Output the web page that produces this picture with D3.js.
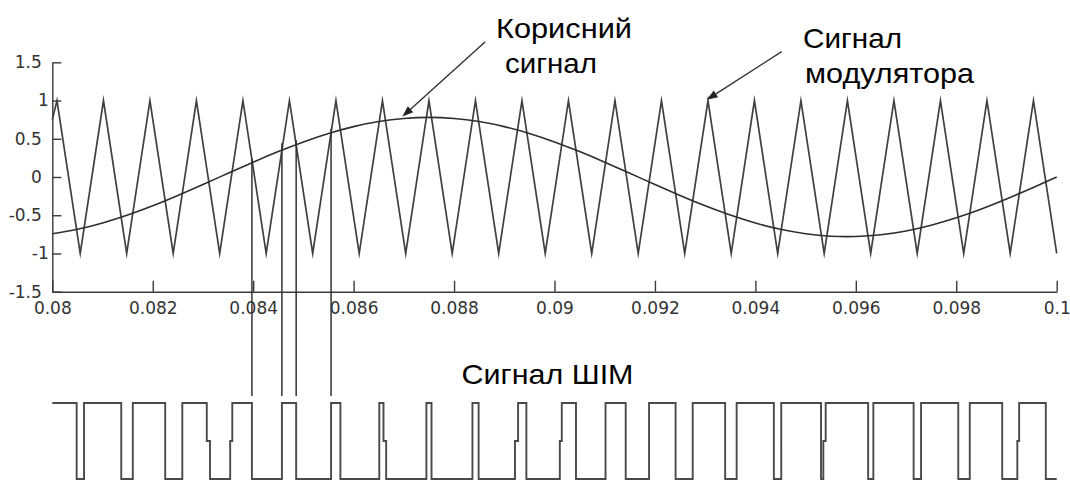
<!DOCTYPE html>
<html>
<head>
<meta charset="utf-8">
<script src="https://cdn.jsdelivr.net/npm/d3@7"></script>
<style>
html, body { margin: 0; padding: 0; background: #ffffff; }
svg { display: block; }
</style>
</head>
<body>
<svg id="chart" width="1070" height="481"></svg>
<script>
// ---------------- data ----------------
const xTicks = [0.08, 0.082, 0.084, 0.086, 0.088, 0.09, 0.092, 0.094, 0.096, 0.098, 0.1];
const xTickLabels = ["0.08", "0.082", "0.084", "0.086", "0.088", "0.09", "0.092", "0.094", "0.096", "0.098", "0.1"];
const yTicks = [1.5, 1, 0.5, 0, -0.5, -1, -1.5];
const yTickLabels = ["1.5", "1", "0.5", "0", "-0.5", "-1", "-1.5"];

// useful (modulating) signal, read every 0.0005 s
const sampleTimes = [0.0800, 0.0805, 0.0810, 0.0815, 0.0820, 0.0825, 0.0830, 0.0835, 0.0840, 0.0845,
  0.0850, 0.0855, 0.0860, 0.0865, 0.0870, 0.0875, 0.0880, 0.0885, 0.0890, 0.0895,
  0.0900, 0.0905, 0.0910, 0.0915, 0.0920, 0.0925, 0.0930, 0.0935, 0.0940, 0.0945,
  0.0950, 0.0955, 0.0960, 0.0965, 0.0970, 0.0975, 0.0980, 0.0985, 0.0990, 0.0995, 0.1000];
const usefulSignal = [-0.742, -0.684, -0.601, -0.497, -0.376, -0.241, -0.098, 0.049, 0.194, 0.332,
  0.458, 0.569, 0.659, 0.725, 0.766, 0.780, 0.766, 0.725, 0.659, 0.569,
  0.458, 0.332, 0.194, 0.049, -0.098, -0.241, -0.376, -0.497, -0.601, -0.684,
  -0.742, -0.774, -0.778, -0.756, -0.706, -0.631, -0.534, -0.418, -0.287, -0.146, 0.000];

// modulator (carrier) triangle wave: vertex times and values
const carrierTimes = [0.080000, 0.080093, 0.080556, 0.081019, 0.081481, 0.081944, 0.082407, 0.082870,
  0.083333, 0.083796, 0.084259, 0.084722, 0.085185, 0.085648, 0.086111, 0.086574, 0.087037,
  0.087500, 0.087963, 0.088426, 0.088889, 0.089352, 0.089815, 0.090278, 0.090741, 0.091204,
  0.091667, 0.092130, 0.092593, 0.093056, 0.093519, 0.093981, 0.094444, 0.094907, 0.095370,
  0.095833, 0.096296, 0.096759, 0.097222, 0.097685, 0.098148, 0.098611, 0.099074, 0.099537, 0.100000];
const carrierValues = [0.75, 1, -1, 1, -1, 1, -1, 1, -1, 1, -1, 1, -1, 1, -1, 1, -1,
  1, -1, 1, -1, 1, -1, 1, -1, 1, -1, 1, -1, 1, -1, 1, -1, 1, -1,
  1, -1, 1, -1, 1, -1, 1, -1, 1, -1];

// PWM output: switching times and the level held after each switch (1 high, 0 mid sample, -1 low)
const pwmTimes = [0.080000, 0.080485, 0.080632, 0.081373, 0.081603, 0.082248, 0.082589,
  0.083076, 0.083140, 0.083542, 0.083584, 0.083975, 0.084572, 0.084856, 0.085551, 0.085737,
  0.086511, 0.086595, 0.086648, 0.087449, 0.087551, 0.088366, 0.088489, 0.089213, 0.089275,
  0.089440, 0.090106, 0.090145, 0.090428, 0.091016, 0.091418, 0.091883, 0.092411, 0.092752,
  0.093398, 0.093627, 0.094368, 0.094515, 0.095307, 0.095353, 0.095400, 0.096245, 0.096349,
  0.097151, 0.097299, 0.098040, 0.098269, 0.098915, 0.099216, 0.099252, 0.099783];
const pwmLevels = [1, -1, 1, -1, 1, -1, 1,
  0, -1, 0, 1, -1, 1, -1, 1, -1,
  1, 0, -1, 1, -1, 1, -1, 0, 1,
  -1, 0, 1, -1, 1, -1, 1, -1, 1,
  -1, 1, -1, 1, -1, 0, 1, -1, 1,
  -1, 1, -1, 1, -1, 0, 1, -1];

// projection lines from intersection points down to the PWM signal
const markerTimes = [0.083975, 0.084572, 0.084856, 0.085551];
const markerValues = [0.24, 0.44, 0.48, 0.63];

// annotations (text and arrow anchored in data units)
const annotationLines = [
  ["Корисний", "сигнал"],
  ["Сигнал", "модулятора"]
];
const arrowTips = [[0.086970, 0.79], [0.093031, 1.01]];
const arrowTails = [[0.088622, 1.77], [0.094524, 1.64]];
const pwmTitle = "Сигнал ШІМ";

// ---------------- drawing ----------------
const svg = d3.select("#chart");
svg.append("rect").attr("width", 1070).attr("height", 481).attr("fill", "#ffffff");

const x = d3.scaleLinear().domain([0.08, 0.1]).range([52.3, 1056.7]);
const y = d3.scaleLinear().domain([-1.5, 1.5]).range([291.7, 62.3]);
const yP = d3.scaleLinear().domain([-1, 1]).range([479, 403]);

const tickFont = "'DejaVu Sans', sans-serif";
const bigFont = "'Liberation Sans', Arial, sans-serif";
const ink = "#3a3a3a";

// axes
const gx = svg.append("g")
  .attr("transform", "translate(0,291.7)")
  .call(d3.axisBottom(x).tickValues(xTicks)
    .tickFormat((d, i) => xTickLabels[i])
    .tickSizeInner(-11).tickSizeOuter(0).tickPadding(10));
const gy = svg.append("g")
  .attr("transform", "translate(52.3,0)")
  .call(d3.axisLeft(y).tickValues(yTicks)
    .tickFormat((d, i) => yTickLabels[i])
    .tickSizeInner(-9).tickSizeOuter(0).tickPadding(10.5));
[gx, gy].forEach(g => {
  g.select(".domain").attr("stroke", ink).attr("stroke-width", 1.4);
  g.selectAll(".tick line").attr("stroke", ink).attr("stroke-width", 1.4);
  g.selectAll(".tick text").attr("fill", "#333").attr("font-family", tickFont).attr("font-size", 17);
});
gy.selectAll(".tick text").filter(function() {
  const t = d3.select(this).text();
  return t === "1" || t === "-1";
}).attr("dx", 7);

// carrier triangle
const lineCarrier = d3.line().x(d => x(d[0])).y(d => y(d[1]));
svg.append("path")
  .datum(carrierTimes.map((t, i) => [t, carrierValues[i]]))
  .attr("d", lineCarrier)
  .attr("fill", "none").attr("stroke", "#404040").attr("stroke-width", 1.7)
  .attr("stroke-linejoin", "miter").attr("stroke-miterlimit", 10);

// useful signal
const lineUseful = d3.line().curve(d3.curveNatural).x(d => x(d[0])).y(d => y(d[1]));
svg.append("path")
  .datum(sampleTimes.map((t, i) => [t, usefulSignal[i]]))
  .attr("d", lineUseful)
  .attr("fill", "none").attr("stroke", "#2e2e2e").attr("stroke-width", 1.6);

// projection lines
svg.append("g").selectAll("line")
  .data(markerTimes.map((t, i) => [t, markerValues[i]]))
  .join("line")
  .attr("x1", d => x(d[0])).attr("x2", d => x(d[0]))
  .attr("y1", d => y(d[1])).attr("y2", yP(1) - 7)
  .attr("stroke", "#333").attr("stroke-width", 1.5);

// PWM signal
const pwmPoints = pwmTimes.map((t, i) => [t, pwmLevels[i]]);
pwmPoints.push([0.1, pwmLevels[pwmLevels.length - 1]]);
const linePwm = d3.line().curve(d3.curveStepAfter).x(d => x(d[0])).y(d => yP(d[1]));
svg.append("path")
  .datum(pwmPoints)
  .attr("d", linePwm)
  .attr("fill", "none").attr("stroke", "#4a4a4a").attr("stroke-width", 1.9);

// arrows
arrowTips.forEach((tip, i) => {
  const tx = x(tip[0]), ty = y(tip[1]);
  const sx = x(arrowTails[i][0]), sy = y(arrowTails[i][1]);
  const ang = Math.atan2(ty - sy, tx - sx);
  const L = 11, W = 4;
  const bx = tx - L * Math.cos(ang), by = ty - L * Math.sin(ang);
  svg.append("line")
    .attr("x1", sx).attr("y1", sy).attr("x2", bx).attr("y2", by)
    .attr("stroke", "#333").attr("stroke-width", 1.4);
  svg.append("path")
    .attr("d", `M${tx},${ty} L${bx + W * Math.sin(ang)},${by - W * Math.cos(ang)} L${bx - W * Math.sin(ang)},${by + W * Math.cos(ang)} Z`)
    .attr("fill", "#222");
});

// annotation texts
const textSpecs = [
  { text: annotationLines[0][0], x: 496, y: 38.3, len: 136 },
  { text: annotationLines[0][1], x: 505, y: 73.3, len: 92 },
  { text: annotationLines[1][0], x: 803, y: 48.3, len: 99 },
  { text: annotationLines[1][1], x: 805, y: 83.3, len: 169 },
  { text: pwmTitle, x: 461.5, y: 383.5, len: 172 }
];
svg.append("g").selectAll("text")
  .data(textSpecs)
  .join("text")
  .attr("x", d => d.x).attr("y", d => d.y)
  .attr("textLength", d => d.len).attr("lengthAdjust", "spacingAndGlyphs")
  .attr("font-family", bigFont).attr("font-size", 28).attr("fill", "#000")
  .text(d => d.text);
</script>
</body>
</html>
